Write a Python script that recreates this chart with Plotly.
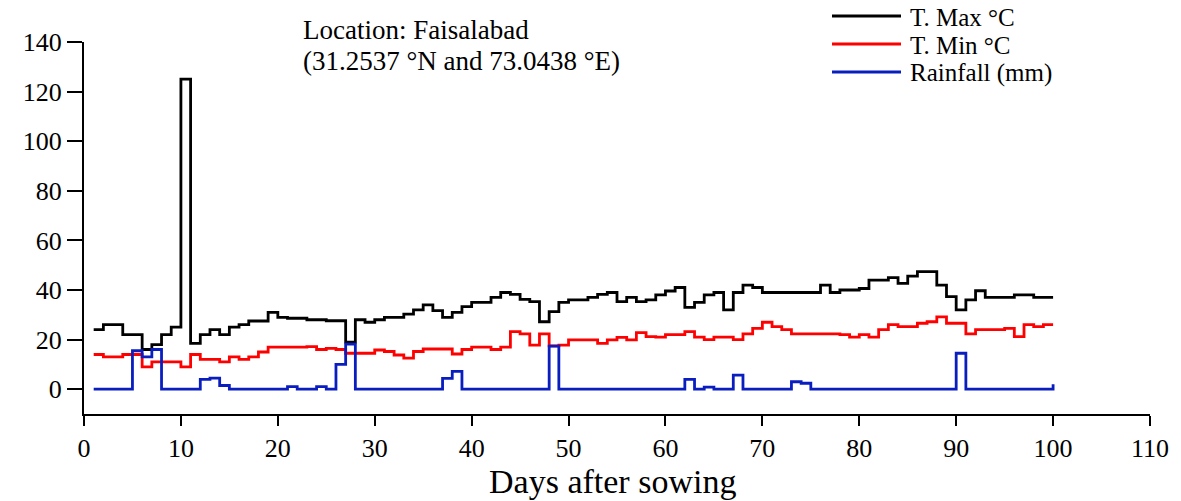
import plotly.graph_objects as go

# Daily weather record, days after sowing 1..100
days = list(range(1, 101))

t_max = [
    24, 26, 26, 22, 22, 16, 18, 22, 25, 125,
    18.5, 22, 24, 22, 25, 26, 27.5, 27.5, 31, 29,
    28.6, 28.6, 28, 28, 27.6, 27.6, 19, 28, 27, 28,
    29, 29, 30.3, 32, 34, 31.7, 29, 31, 33.3, 35,
    35, 37, 39, 38.2, 36.2, 35.3, 27.2, 31.3, 35, 36,
    36, 37, 38.2, 39, 35.3, 37, 35.3, 36, 38, 39.6,
    41, 33, 35, 38, 39, 32, 39, 42, 41, 39,
    39, 39, 39, 39, 39, 42, 39, 40, 40, 40.6,
    44, 44, 45, 42.7, 45.6, 47.4, 47.4, 42, 37.3, 32,
    36, 39.7, 37, 37, 37, 38, 38, 37, 37, 37,
]

t_min = [
    14, 13, 13, 14, 14, 9, 11, 11, 11, 9,
    14, 12, 12, 11, 13, 12, 13, 15, 17, 17,
    17, 17, 17.2, 16, 16.5, 16, 14.5, 14.5, 14.5, 15.8,
    15.2, 13.8, 12.5, 15.2, 16.2, 16.2, 16.2, 14.2, 16, 17,
    17, 16, 17, 23.2, 22.3, 17.8, 22.3, 17.5, 17.8, 19.9,
    19.9, 19.9, 18.5, 19.9, 20.9, 19.9, 22.8, 21.2, 21, 22,
    22, 23.2, 21, 20, 21, 21, 20, 22.3, 24.5, 27,
    25.2, 24, 22.3, 22.3, 22.3, 22.3, 22.3, 22, 21, 22,
    21, 24, 26, 25.2, 25.2, 26.6, 27.2, 29.2, 26.6, 26.6,
    22.3, 24, 24, 24, 24.5, 21.2, 26, 25.2, 26, 26,
]

rainfall = [
    0, 0, 0, 0, 15.5, 13, 16, 0, 0, 0,
    0, 4, 4.5, 1.5, 0, 0, 0, 0, 0, 0,
    1, 0, 0, 1, 0, 10, 18.2, 0, 0, 0,
    0, 0, 0, 0, 0, 0, 4.4, 7.2, 0, 0,
    0, 0, 0, 0, 0, 0, 0, 17.4, 0, 0,
    0, 0, 0, 0, 0, 0, 0, 0, 0, 0,
    0, 4, 0, 0.8, 0, 0, 5.7, 0, 0, 0,
    0, 0, 3, 2.4, 0, 0, 0, 0, 0, 0,
    0, 0, 0, 0, 0, 0, 0, 0, 0, 14.5,
    0, 0, 0, 0, 0, 0, 0, 0, 0, 2,
]

series_names = ["T. Max °C", "T. Min °C", "Rainfall (mm)"]
series_colors = ["#000000", "#ff0000", "#0a1ec0"]
x_ticks = list(range(0, 111, 10))
y_ticks = list(range(0, 141, 20))

FONT = "Liberation Serif"
W, H = 1181, 501
ML, MR, MT, MB = 84, 31, 42, 87
PW, PH = W - ML - MR, H - MT - MB


def px_x(px):
    return (px - ML) / PW


def px_y(py):
    return (H - MB - py) / PH


fig = go.Figure()
for name, vals, col in zip(series_names, [t_max, t_min, rainfall], series_colors):
    fig.add_trace(go.Scatter(
        x=days, y=vals, name=name, mode="lines",
        line=dict(color=col, width=2.8, shape="hv"),
        showlegend=False,
    ))

# Legend drawn by hand: long line samples with labels to the right
legend_rows = [16, 44, 72]
for name, col, ry in zip(series_names, series_colors, legend_rows):
    fig.add_shape(type="line", xref="paper", yref="paper",
                  x0=px_x(832), x1=px_x(901), y0=px_y(ry), y1=px_y(ry),
                  line=dict(color=col, width=2.8))
    fig.add_annotation(text=name, xref="paper", yref="paper",
                       x=px_x(908), y=px_y(ry + 1), xanchor="left", yanchor="middle",
                       showarrow=False, font=dict(family=FONT, size=25, color="black"))

# Site description
for txt, cy in [("Location: Faisalabad", 30), ("(31.2537 °N and 73.0438 °E)", 61)]:
    fig.add_annotation(text=txt, xref="paper", yref="paper",
                       x=px_x(301), y=px_y(cy), xanchor="left", yanchor="middle",
                       showarrow=False, font=dict(family=FONT, size=27, color="black"))

# X-axis title
fig.add_annotation(text="Days after sowing", xref="paper", yref="paper",
                   x=px_x(612), y=px_y(481.5), xanchor="center", yanchor="middle",
                   showarrow=False, font=dict(family=FONT, size=34, color="black"))

fig.update_layout(
    width=W, height=H,
    margin=dict(l=ML, r=MR, t=MT, b=MB),
    paper_bgcolor="white", plot_bgcolor="white",
    font=dict(family=FONT, color="black"),
    xaxis=dict(
        range=[0, 110], tickvals=x_ticks, showgrid=False, zeroline=False,
        showline=True, linecolor="black", linewidth=2,
        ticks="outside", ticklen=10, tickwidth=2, tickcolor="black",
        tickfont=dict(family=FONT, size=26), automargin=False,
    ),
    yaxis=dict(
        range=[-10, 140], tickvals=y_ticks, showgrid=False, zeroline=False,
        showline=True, linecolor="black", linewidth=2,
        ticks="outside", ticklen=15, tickwidth=2, tickcolor="black",
        tickfont=dict(family=FONT, size=26), automargin=False,
    ),
)

fig.write_html("out.html")
